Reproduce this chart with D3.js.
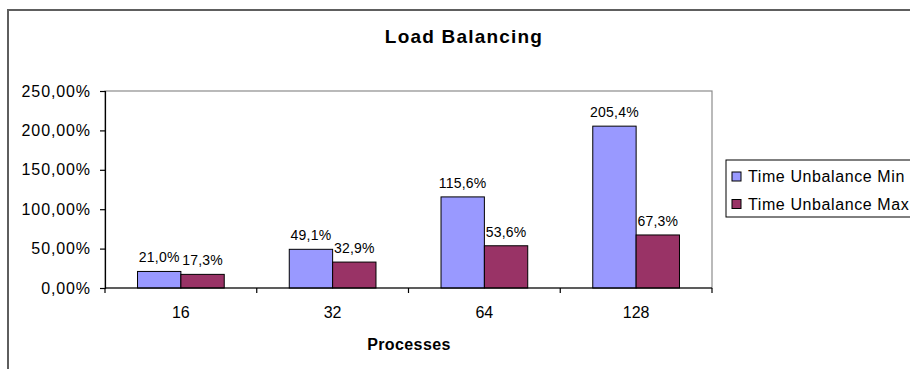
<!DOCTYPE html>
<html>
<head>
<meta charset="utf-8">
<script src="https://cdn.jsdelivr.net/npm/d3@7"></script>
<style>
  html, body { margin: 0; padding: 0; background: #fff; }
  svg { display: block; font-family: "Liberation Sans", Arial, sans-serif; }
</style>
</head>
<body>
<svg id="chart" width="910" height="369"></svg>
<script>
// Process counts on the x axis
const categories = ["16", "32", "64", "128"];
// Series names for the legend
const seriesNames = ["Time Unbalance Min", "Time Unbalance Max"];
// Unbalance percentages per process count
const unbalanceMin = [21.0, 49.1, 115.6, 205.4];
const unbalanceMax = [17.3, 32.9, 53.6, 67.3];
// Value axis ticks
const yTicks = [0, 50, 100, 150, 200, 250];

const colors = ["#9999FF", "#993366"];
const seriesValues = [unbalanceMin, unbalanceMax];

const svg = d3.select("#chart");
const plot = { left: 105, right: 712, top: 91, bottom: 288 };

// Outer chart frame
svg.append("path")
  .attr("d", "M8,369 V10 H912")
  .attr("fill", "none")
  .attr("stroke", "#5e5e5e")
  .attr("stroke-width", 2);

// Title
svg.append("text")
  .attr("x", 464).attr("y", 43)
  .attr("text-anchor", "middle")
  .attr("font-size", 19).attr("font-weight", "bold")
  .attr("letter-spacing", 1.2)
  .text("Load Balancing");

const x0 = d3.scaleBand().domain(categories).range([plot.left, plot.right]).padding(0);
const x1 = d3.scaleBand().domain(d3.range(seriesNames.length))
  .range([0, x0.bandwidth()]).paddingInner(0).paddingOuter(0.75);
const y = d3.scaleLinear().domain([0, 250]).range([plot.bottom, plot.top]);

// Plot area border
svg.append("rect")
  .attr("x", plot.left).attr("y", plot.top)
  .attr("width", plot.right - plot.left).attr("height", plot.bottom - plot.top)
  .attr("fill", "none").attr("stroke", "#8c8c8c").attr("stroke-width", 1.2);

// Bars
const groups = svg.append("g").selectAll("g")
  .data(categories)
  .join("g")
  .attr("transform", d => `translate(${x0(d)},0)`);

groups.selectAll("rect")
  .data((d, i) => seriesValues.map((vals, s) => ({ s, v: vals[i] })))
  .join("rect")
  .attr("x", d => x1(d.s))
  .attr("y", d => y(d.v))
  .attr("width", x1.bandwidth())
  .attr("height", d => y(0) - y(d.v))
  .attr("fill", d => colors[d.s])
  .attr("stroke", "#000").attr("stroke-width", 1);

// Value labels
const fmtPct = v => v.toFixed(1).replace(".", ",") + "%";
groups.selectAll("text")
  .data((d, i) => seriesValues.map((vals, s) => ({ s, v: vals[i] })))
  .join("text")
  .attr("x", d => x1(d.s) + x1.bandwidth() / 2)
  .attr("y", d => y(d.v) - 9)
  .attr("text-anchor", "middle")
  .attr("font-size", 14)
  .attr("letter-spacing", 0.2)
  .text(d => fmtPct(d.v));

// Y axis
const yAxis = d3.axisLeft(y).tickValues(yTicks).tickSize(5).tickPadding(9)
  .tickFormat(v => v.toFixed(2).replace(".", ",") + "%");
svg.append("g")
  .attr("transform", `translate(${plot.left},0)`)
  .call(yAxis)
  .call(g => g.selectAll("text").attr("font-size", 16).attr("letter-spacing", 0.9)
    .attr("font-family", "Liberation Sans, Arial, sans-serif").attr("fill", "#000"))
  .call(g => g.selectAll("line, path").attr("stroke", "#000").attr("stroke-width", 1.2));

// X axis: ticks at category boundaries
const xAxisG = svg.append("g").attr("transform", `translate(0,${plot.bottom})`);
xAxisG.append("line")
  .attr("x1", plot.left).attr("x2", plot.right)
  .attr("stroke", "#000").attr("stroke-width", 1.2);
const boundaries = categories.map(c => x0(c)).concat([x0(categories[categories.length - 1]) + x0.bandwidth()]);
xAxisG.selectAll("line.tick")
  .data(boundaries)
  .join("line").attr("class", "tick")
  .attr("x1", d => d).attr("x2", d => d)
  .attr("y1", 0).attr("y2", 5)
  .attr("stroke", "#000").attr("stroke-width", 1.2);
xAxisG.selectAll("text")
  .data(categories)
  .join("text")
  .attr("x", d => x0(d) + x0.bandwidth() / 2)
  .attr("y", 30)
  .attr("text-anchor", "middle")
  .attr("font-size", 16)
  .text(d => d);

// X axis title
svg.append("text")
  .attr("x", 409).attr("y", 350)
  .attr("text-anchor", "middle")
  .attr("font-size", 16).attr("font-weight", "bold")
  .attr("letter-spacing", 0.4)
  .text("Processes");

// Legend
const legend = svg.append("g");
legend.append("rect")
  .attr("x", 726).attr("y", 160)
  .attr("width", 200).attr("height", 57)
  .attr("fill", "#fff").attr("stroke", "#000").attr("stroke-width", 1);
const items = legend.selectAll("g.item")
  .data(seriesNames)
  .join("g").attr("class", "item")
  .attr("transform", (d, i) => `translate(732,${172 + i * 27.5})`);
items.append("rect")
  .attr("width", 9).attr("height", 9)
  .attr("fill", (d, i) => colors[i])
  .attr("stroke", "#000").attr("stroke-width", 1);
items.append("text")
  .attr("x", 16).attr("y", 10)
  .attr("font-size", 16)
  .attr("letter-spacing", 0.6)
  .text(d => d);
</script>
</body>
</html>
